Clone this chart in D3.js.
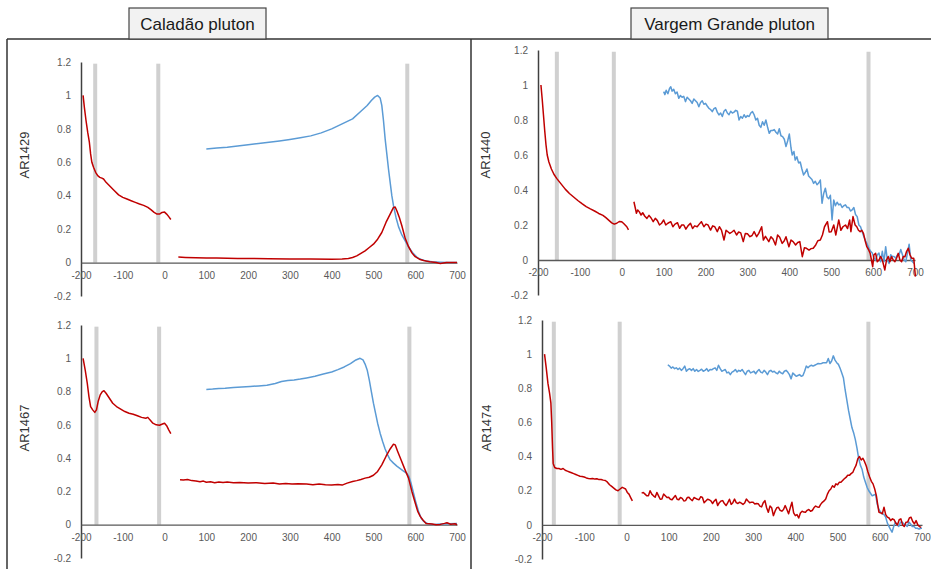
<!DOCTYPE html>
<html>
<head>
<meta charset="utf-8">
<script src="https://cdn.jsdelivr.net/npm/d3@7"></script>
<style>
  body { margin: 0; background: #fff; }
  svg { display: block; }
</style>
</head>
<body>
<svg id="chart" width="931" height="569"></svg>
<script>
// plutons and samples
var plutons = ["Caladão pluton", "Vargem Grande pluton"];
var samples = ["AR1429", "AR1440", "AR1467", "AR1474"];

var xTicks = [-200, -100, 0, 100, 200, 300, 400, 500, 600, 700];
var yTicks = [-0.2, 0, 0.2, 0.4, 0.6, 0.8, 1, 1.2];

// grey marker positions (x) per sample
var markers = {
  AR1429: [-166, -15, 581],
  AR1440: [-155, -19, 589],
  AR1467: [-163, -13, 586],
  AR1474: [-172, -16, 573]
};

// ---- AR1429 ----
var ar1429Red1 = [[-195,1.0],[-192,0.93],[-188,0.85],[-184,0.78],[-180,0.72],[-177,0.65],[-174,0.6],[-170,0.57],[-165,0.54],[-160,0.52],[-155,0.51],[-150,0.505],[-146,0.5],[-140,0.48],[-130,0.455],[-120,0.43],[-110,0.405],[-100,0.39],[-90,0.38],[-80,0.37],[-70,0.36],[-60,0.35],[-50,0.342],[-40,0.33],[-32,0.315],[-25,0.3],[-18,0.29],[-12,0.29],[-6,0.3],[0,0.302],[5,0.29],[10,0.275],[15,0.258]];
var ar1429Red2 = [[33,0.033],[50,0.031],[75,0.029],[100,0.028],[125,0.027],[150,0.026],[175,0.025],[200,0.024],[250,0.023],[300,0.022],[350,0.021],[400,0.02],[425,0.021],[440,0.024],[450,0.03],[460,0.04],[470,0.055],[480,0.07],[490,0.09],[500,0.11],[510,0.14],[520,0.18],[530,0.24],[540,0.29],[548,0.33],[552,0.332],[556,0.31],[562,0.27],[568,0.22],[576,0.145],[584,0.095],[592,0.058],[600,0.035],[610,0.02],[620,0.012],[635,0.005],[650,0.0],[660,-0.005],[675,0.0],[690,0.0],[700,0.0]];
var ar1429Blue = [[100,0.68],[125,0.685],[150,0.69],[175,0.697],[200,0.705],[225,0.712],[250,0.72],[275,0.728],[300,0.737],[325,0.747],[350,0.758],[375,0.776],[400,0.8],[425,0.83],[450,0.86],[470,0.905],[485,0.94],[495,0.97],[503,0.99],[510,1.0],[516,0.985],[520,0.94],[524,0.85],[528,0.74],[532,0.65],[536,0.56],[540,0.48],[544,0.4],[548,0.34],[554,0.27],[560,0.215],[568,0.165],[576,0.13],[585,0.09],[595,0.055],[605,0.03],[615,0.018],[625,0.01],[640,0.005],[660,0.002],[680,0.0],[700,0.0]];

// ---- AR1440 ----
var ar1440Red1 = [[-193,1.0],[-190,0.92],[-187,0.83],[-184,0.74],[-181,0.66],[-178,0.6],[-174,0.56],[-168,0.52],[-162,0.49],[-155,0.465],[-145,0.435],[-135,0.405],[-125,0.38],[-115,0.36],[-105,0.34],[-95,0.322],[-85,0.305],[-75,0.292],[-65,0.28],[-55,0.266],[-45,0.255],[-38,0.242],[-30,0.225],[-24,0.212],[-18,0.205],[-12,0.21],[-6,0.22],[0,0.218],[4,0.21],[8,0.2],[12,0.19],[16,0.172]];
var ar1440Red2 = [[29,0.333],[32,0.3],[35,0.267],[38,0.286],[42,0.275],[46,0.257],[50,0.27],[55,0.25],[60,0.238],[65,0.255],[70,0.24],[75,0.219],[80,0.238],[85,0.225],[90,0.2],[95,0.21],[100,0.229],[105,0.2],[110,0.21],[117,0.219],[122,0.19],[127,0.205],[133,0.213],[138,0.181],[143,0.2],[148,0.2],[153,0.176],[158,0.195],[164,0.21],[169,0.18],[174,0.195],[180,0.19],[185,0.205],[190,0.219],[196,0.19],[201,0.205],[206,0.2],[212,0.171],[217,0.195],[222,0.19],[228,0.162],[233,0.19],[238,0.171],[244,0.114],[249,0.17],[254,0.16],[258,0.152],[263,0.16],[268,0.17],[274,0.143],[279,0.16],[284,0.155],[290,0.105],[295,0.152],[300,0.15],[306,0.133],[311,0.14],[316,0.162],[322,0.133],[327,0.152],[334,0.19],[338,0.114],[343,0.135],[351,0.105],[356,0.133],[361,0.12],[367,0.086],[372,0.143],[377,0.13],[383,0.095],[388,0.11],[392,0.133],[399,0.076],[404,0.114],[409,0.105],[415,0.086],[420,0.1],[425,0.105],[431,0.019],[436,0.07],[441,0.067],[447,0.057],[452,0.065],[457,0.067],[463,0.086],[468,0.11],[474,0.114],[479,0.143],[484,0.19],[491,0.219],[495,0.16],[500,0.162],[506,0.2],[511,0.143],[518,0.229],[523,0.17],[528,0.19],[534,0.2],[539,0.18],[544,0.229],[547,0.162],[552,0.248],[557,0.2],[561,0.19],[565,0.17],[569,0.162],[573,0.17],[577,0.152],[581,0.11],[585,0.076],[589,0.06],[593,0.038],[596,0.0],[599,-0.038],[602,0.03],[606,0.038],[610,-0.01],[614,0.0],[618,0.02],[622,0.0],[628,-0.057],[632,0.0],[636,0.02],[640,-0.01],[644,0.019],[648,0.0],[652,-0.01],[656,0.01],[660,0.038],[664,0.0],[668,-0.01],[672,0.02],[676,0.019],[680,0.05],[684,0.067],[688,0.03],[692,0.01],[697,0.01],[701,-0.095]];
var ar1440Blue = [[100,0.962],[103,0.945],[106,0.97],[110,0.95],[114,0.98],[117,0.99],[120,0.965],[124,0.975],[128,0.95],[132,0.96],[136,0.924],[140,0.94],[144,0.93],[148,0.935],[152,0.905],[156,0.93],[160,0.92],[164,0.91],[168,0.895],[172,0.92],[176,0.91],[180,0.9],[184,0.876],[188,0.9],[192,0.91],[196,0.89],[200,0.895],[204,0.88],[208,0.867],[212,0.86],[216,0.848],[220,0.865],[224,0.87],[228,0.845],[232,0.829],[236,0.84],[240,0.82],[244,0.85],[248,0.86],[252,0.84],[256,0.83],[260,0.85],[264,0.84],[268,0.845],[272,0.855],[276,0.85],[280,0.8],[284,0.82],[288,0.81],[292,0.83],[296,0.815],[300,0.825],[304,0.82],[308,0.84],[312,0.848],[316,0.83],[320,0.8],[324,0.81],[328,0.77],[332,0.758],[336,0.79],[340,0.77],[344,0.8],[348,0.76],[352,0.724],[356,0.74],[360,0.74],[364,0.745],[368,0.73],[372,0.72],[376,0.75],[380,0.71],[384,0.705],[388,0.69],[392,0.648],[396,0.68],[400,0.72],[404,0.64],[407,0.6],[411,0.62],[414,0.571],[418,0.59],[422,0.555],[426,0.56],[430,0.52],[434,0.486],[438,0.5],[442,0.52],[446,0.48],[450,0.47],[454,0.46],[458,0.438],[462,0.45],[466,0.43],[470,0.44],[474,0.457],[478,0.324],[482,0.38],[486,0.41],[490,0.36],[494,0.35],[498,0.37],[502,0.229],[506,0.343],[510,0.31],[514,0.33],[518,0.315],[522,0.32],[526,0.3],[530,0.31],[534,0.315],[538,0.3],[542,0.3],[546,0.28],[550,0.286],[554,0.3],[558,0.26],[562,0.248],[566,0.2],[570,0.19],[574,0.16],[578,0.133],[582,0.11],[586,0.09],[590,0.067],[594,0.05],[598,0.04],[602,0.01],[606,0.0],[610,0.03],[614,0.04],[618,-0.01],[622,0.05],[626,-0.01],[630,0.076],[634,0.0],[638,-0.02],[642,0.03],[646,0.02],[650,0.02],[654,0.01],[658,0.03],[662,0.03],[666,0.06],[670,0.03],[674,0.0],[678,-0.01],[682,0.04],[686,0.09],[690,0.0],[694,-0.01],[698,-0.02]];

// ---- AR1467 ----
var ar1467Red1 = [[-195,1.0],[-190,0.93],[-185,0.85],[-181,0.77],[-177,0.71],[-172,0.69],[-167,0.675],[-163,0.69],[-159,0.74],[-154,0.78],[-149,0.8],[-145,0.805],[-140,0.79],[-132,0.76],[-124,0.73],[-115,0.71],[-105,0.695],[-95,0.68],[-85,0.67],[-75,0.664],[-65,0.655],[-55,0.645],[-45,0.64],[-40,0.645],[-35,0.63],[-28,0.61],[-20,0.6],[-12,0.598],[-5,0.605],[0,0.61],[5,0.595],[10,0.57],[15,0.548]];
var ar1467Red2 = [[37,0.27],[45,0.268],[55,0.272],[65,0.265],[75,0.262],[85,0.258],[93,0.262],[100,0.255],[110,0.258],[120,0.252],[130,0.257],[140,0.253],[150,0.256],[165,0.252],[180,0.254],[200,0.25],[220,0.252],[240,0.248],[260,0.25],[275,0.244],[290,0.248],[305,0.244],[320,0.246],[340,0.244],[355,0.24],[370,0.244],[385,0.24],[400,0.238],[415,0.242],[425,0.238],[437,0.25],[450,0.26],[460,0.265],[470,0.272],[480,0.28],[490,0.285],[500,0.297],[510,0.32],[520,0.36],[530,0.41],[540,0.455],[548,0.484],[552,0.48],[558,0.44],[566,0.39],[574,0.34],[584,0.28],[592,0.2],[600,0.13],[606,0.08],[612,0.05],[618,0.03],[626,0.008],[640,0.004],[650,0.0],[660,0.002],[670,0.008],[676,0.012],[685,0.003],[695,0.006],[700,0.0]];
var ar1467Blue = [[100,0.813],[115,0.815],[130,0.818],[145,0.82],[165,0.825],[185,0.828],[205,0.831],[225,0.834],[245,0.838],[265,0.848],[280,0.86],[295,0.866],[310,0.87],[325,0.875],[340,0.882],[360,0.892],[380,0.905],[400,0.918],[415,0.932],[430,0.948],[445,0.968],[458,0.99],[468,1.0],[475,0.99],[480,0.965],[485,0.93],[490,0.87],[495,0.8],[500,0.73],[505,0.67],[510,0.61],[516,0.55],[522,0.5],[528,0.455],[534,0.42],[540,0.39],[548,0.37],[556,0.352],[564,0.337],[572,0.322],[580,0.308],[585,0.29],[590,0.25],[596,0.19],[602,0.13],[608,0.08],[614,0.04],[620,0.02],[630,0.006],[645,0.002],[660,0.004],[680,0.006],[700,0.008]];

// ---- AR1474 ----
var ar1474Red1 = [[-194,1.0],[-190,0.92],[-186,0.83],[-182,0.77],[-179,0.715],[-177,0.6],[-175,0.45],[-173.5,0.36],[-170,0.336],[-165,0.33],[-160,0.33],[-155,0.325],[-150,0.33],[-145,0.32],[-140,0.315],[-135,0.31],[-130,0.305],[-125,0.3],[-120,0.295],[-115,0.29],[-110,0.285],[-105,0.283],[-100,0.28],[-95,0.275],[-90,0.272],[-85,0.27],[-80,0.272],[-75,0.268],[-70,0.27],[-65,0.265],[-60,0.266],[-55,0.262],[-50,0.26],[-45,0.25],[-40,0.235],[-35,0.225],[-30,0.215],[-25,0.205],[-20,0.2],[-15,0.21],[-10,0.22],[-6,0.215],[-2,0.21],[2,0.19],[6,0.18],[10,0.16],[14,0.14]];
var ar1474Red2 = [[36,0.186],[40,0.19],[44,0.18],[48,0.17],[52,0.171],[56,0.2],[60,0.18],[64,0.17],[68,0.162],[72,0.19],[76,0.17],[80,0.15],[84,0.151],[88,0.18],[92,0.17],[96,0.16],[100,0.162],[104,0.15],[108,0.147],[112,0.16],[116,0.172],[120,0.15],[124,0.147],[128,0.16],[132,0.155],[136,0.14],[140,0.142],[144,0.16],[148,0.162],[152,0.15],[156,0.142],[160,0.16],[164,0.155],[168,0.15],[172,0.147],[176,0.165],[180,0.16],[184,0.13],[188,0.14],[192,0.15],[196,0.147],[200,0.14],[204,0.125],[208,0.14],[212,0.15],[216,0.113],[220,0.13],[224,0.14],[228,0.142],[232,0.125],[236,0.113],[240,0.13],[244,0.15],[248,0.12],[252,0.13],[256,0.151],[260,0.13],[264,0.125],[268,0.133],[272,0.127],[276,0.12],[280,0.128],[284,0.151],[288,0.14],[292,0.13],[296,0.133],[300,0.132],[304,0.122],[308,0.125],[312,0.124],[316,0.11],[320,0.105],[324,0.13],[328,0.142],[332,0.1],[336,0.074],[340,0.11],[344,0.1],[348,0.054],[352,0.08],[356,0.1],[360,0.103],[364,0.085],[368,0.08],[372,0.09],[376,0.113],[380,0.09],[384,0.065],[388,0.1],[392,0.132],[396,0.07],[400,0.054],[404,0.06],[408,0.04],[412,0.07],[416,0.08],[420,0.075],[424,0.074],[428,0.085],[432,0.09],[436,0.08],[440,0.084],[444,0.1],[448,0.11],[452,0.105],[456,0.103],[460,0.12],[464,0.132],[468,0.14],[472,0.151],[476,0.18],[480,0.2],[484,0.21],[488,0.229],[492,0.22],[496,0.24],[500,0.235],[504,0.249],[508,0.25],[512,0.26],[516,0.27],[520,0.278],[524,0.29],[528,0.29],[532,0.3],[536,0.307],[540,0.33],[544,0.35],[548,0.388],[552,0.4],[556,0.38],[560,0.39],[564,0.37],[568,0.345],[572,0.31],[576,0.28],[580,0.255],[584,0.24],[588,0.21],[592,0.17],[595,0.12],[598,0.074],[602,0.07],[606,0.065],[610,0.103],[614,0.06],[618,0.045],[622,0.04],[626,0.025],[630,0.035],[634,0.03],[638,0.01],[642,0.0],[646,0.03],[650,0.035],[654,0.0],[658,-0.01],[662,0.015],[666,0.016],[670,0.04],[674,0.045],[678,0.02],[682,0.006],[686,0.025],[690,0.0],[694,-0.01],[698,-0.015]];
var ar1474Blue = [[98,0.938],[102,0.93],[106,0.918],[110,0.925],[114,0.915],[118,0.92],[122,0.91],[126,0.918],[130,0.905],[134,0.915],[138,0.93],[142,0.9],[146,0.91],[150,0.915],[154,0.905],[158,0.915],[162,0.9],[166,0.91],[170,0.899],[174,0.905],[178,0.912],[182,0.9],[186,0.905],[190,0.915],[194,0.9],[198,0.91],[202,0.908],[206,0.915],[210,0.92],[214,0.905],[218,0.935],[222,0.915],[226,0.9],[230,0.905],[234,0.91],[238,0.89],[242,0.895],[246,0.88],[250,0.895],[254,0.9],[258,0.91],[262,0.895],[266,0.905],[270,0.9],[274,0.91],[278,0.895],[282,0.88],[286,0.9],[290,0.905],[294,0.89],[298,0.895],[302,0.9],[306,0.885],[310,0.9],[314,0.91],[318,0.895],[322,0.89],[326,0.905],[330,0.895],[334,0.88],[338,0.9],[342,0.905],[346,0.895],[350,0.9],[354,0.89],[358,0.885],[362,0.9],[366,0.89],[370,0.885],[374,0.9],[378,0.905],[382,0.895],[386,0.88],[390,0.855],[394,0.89],[398,0.88],[402,0.87],[406,0.875],[410,0.88],[414,0.87],[418,0.875],[422,0.9],[426,0.93],[430,0.92],[434,0.93],[438,0.935],[442,0.93],[446,0.935],[450,0.94],[454,0.945],[458,0.944],[462,0.945],[466,0.95],[470,0.95],[474,0.95],[478,0.975],[482,0.945],[486,0.96],[490,0.99],[494,0.965],[498,0.95],[502,0.94],[506,0.917],[510,0.89],[514,0.86],[518,0.79],[522,0.73],[526,0.67],[530,0.62],[534,0.57],[538,0.54],[542,0.501],[546,0.45],[550,0.39],[554,0.35],[558,0.326],[562,0.28],[566,0.249],[570,0.22],[574,0.2],[578,0.185],[582,0.17],[586,0.175],[590,0.18],[594,0.12],[598,0.09],[602,0.075],[606,0.065],[610,0.06],[614,0.045],[618,0.01],[622,-0.01],[626,-0.03],[629,-0.043],[633,-0.01],[637,0.016],[641,0.0],[645,-0.01],[649,0.015],[653,0.016],[657,0.005],[661,0.0],[665,-0.01],[669,0.016],[673,0.005],[677,-0.01],[681,-0.01],[685,-0.02],[689,-0.02],[693,-0.025],[697,-0.02],[700,-0.02]];

var series = {
  AR1429: { red: [ar1429Red1, ar1429Red2], blue: ar1429Blue },
  AR1440: { red: [ar1440Red1, ar1440Red2], blue: ar1440Blue },
  AR1467: { red: [ar1467Red1, ar1467Red2], blue: ar1467Blue },
  AR1474: { red: [ar1474Red1, ar1474Red2], blue: ar1474Blue }
};

// panel placement (pixels)
var panels = [
  { id: "AR1429", x0: 81,  x1: 457, yTop: 62,  yBot: 296, titleX: 29,  titleY: 155 },
  { id: "AR1440", x0: 538, x1: 915, yTop: 50,  yBot: 295, titleX: 490, titleY: 155 },
  { id: "AR1467", x0: 81,  x1: 457, yTop: 325, yBot: 558, titleX: 29,  titleY: 428 },
  { id: "AR1474", x0: 542, x1: 922, yTop: 320, yBot: 559, titleX: 491, titleY: 428 }
];

var BLUE = "#5b9bd5", RED = "#c00000", GREY = "#d0d0d0";
var FONT = "'Liberation Sans', Arial, sans-serif";

var svg = d3.select("#chart");

// outer frame
var frame = svg.append("g").attr("stroke", "#333").attr("stroke-width", 1.5).attr("fill", "none");
frame.append("line").attr("x1", 7).attr("x2", 931).attr("y1", 39).attr("y2", 39);
frame.append("line").attr("x1", 7).attr("x2", 7).attr("y1", 39).attr("y2", 569);
frame.append("line").attr("x1", 471).attr("x2", 471).attr("y1", 39).attr("y2", 569);

// pluton title boxes
var boxes = [{ x: 129, w: 137 }, { x: 631, w: 197 }];
plutons.forEach(function (name, i) {
  var b = boxes[i];
  svg.append("rect")
    .attr("x", b.x).attr("y", 8).attr("width", b.w).attr("height", 31)
    .attr("fill", "#f2f2f2").attr("stroke", "#444").attr("stroke-width", 1.2);
  svg.append("text")
    .attr("x", b.x + b.w / 2).attr("y", 30)
    .attr("text-anchor", "middle")
    .attr("font-family", FONT).attr("font-size", 17)
    .attr("fill", "#1a1a1a")
    .text(name);
});

panels.forEach(function (p) {
  var x = d3.scaleLinear().domain([-200, 700]).range([p.x0, p.x1]);
  var y = d3.scaleLinear().domain([-0.2, 1.2]).range([p.yBot, p.yTop]);
  var g = svg.append("g");

  // grey marker bars
  g.selectAll("rect.mk")
    .data(markers[p.id])
    .join("rect")
      .attr("class", "mk")
      .attr("x", d => x(d) - 2)
      .attr("width", 4)
      .attr("y", y(1.19))
      .attr("height", y(0) - y(1.19))
      .attr("fill", GREY);

  // axes (plain hyphen for minus, as in the original)
  var yAxis = d3.axisLeft(y).tickValues(yTicks).tickSize(0).tickPadding(10)
    .tickFormat(d => String(+d.toFixed(1)));
  var gy = g.append("g").attr("transform", `translate(${p.x0},0)`).call(yAxis);
  gy.select(".domain").attr("stroke", "#404040").attr("stroke-width", 1.5);

  var xAxis = d3.axisBottom(x).tickValues(xTicks).tickSize(0).tickPadding(9)
    .tickFormat(d => String(d));
  var gx = g.append("g").attr("transform", `translate(0,${y(0)})`).call(xAxis);
  gx.select(".domain").attr("stroke", "#595959").attr("stroke-width", 1.3);

  g.selectAll(".tick text")
    .attr("font-family", FONT).attr("font-size", 10).attr("fill", "#595959");

  // y title
  g.append("text")
    .attr("transform", `translate(${p.titleX},${p.titleY}) rotate(-90)`)
    .attr("text-anchor", "middle")
    .attr("font-family", FONT).attr("font-size", 13)
    .attr("fill", "#333")
    .text(p.id);

  var line = d3.line().x(d => x(d[0])).y(d => y(d[1]));

  g.append("path")
    .datum(series[p.id].blue)
    .attr("fill", "none").attr("stroke", BLUE).attr("stroke-width", 1.5)
    .attr("stroke-linejoin", "round")
    .attr("d", line);

  g.selectAll("path.red")
    .data(series[p.id].red)
    .join("path")
      .attr("class", "red")
      .attr("fill", "none").attr("stroke", RED).attr("stroke-width", 1.5)
      .attr("stroke-linejoin", "round")
      .attr("d", line);
});
</script>
</body>
</html>
